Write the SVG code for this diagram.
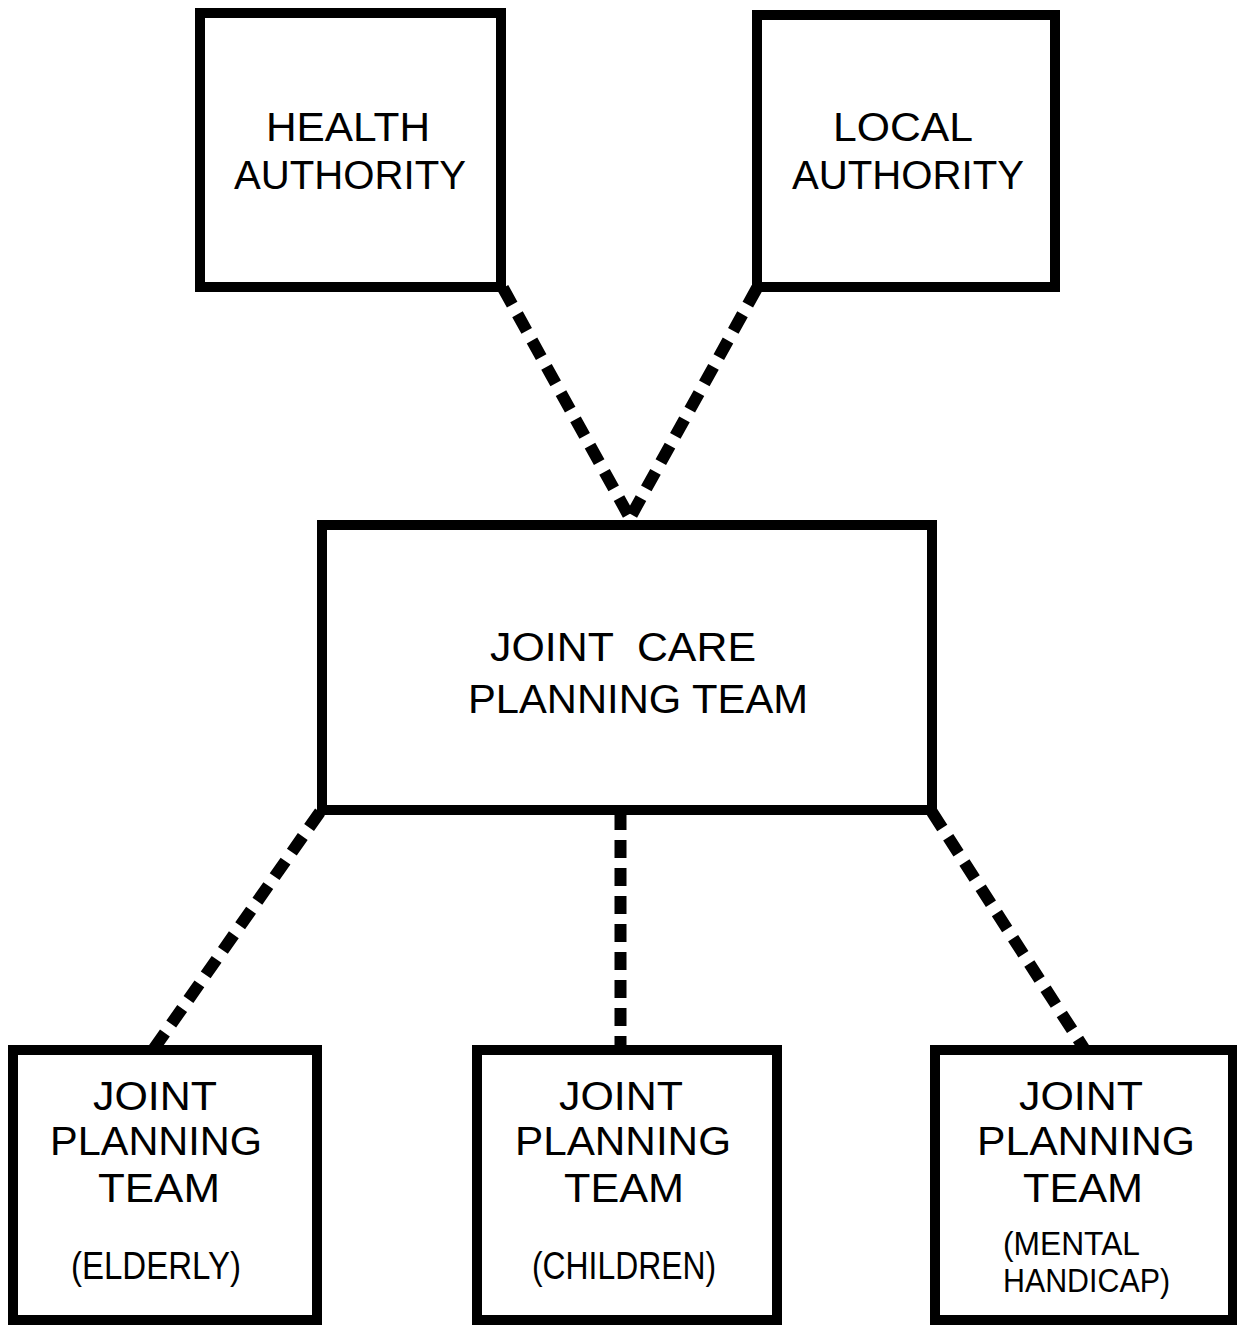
<svg xmlns="http://www.w3.org/2000/svg" width="1237" height="1325" viewBox="0 0 1237 1325">
<style>
.box{fill:#fff;stroke:#000;stroke-width:10;stroke-linejoin:miter}
.lbl{font-family:"Liberation Sans",Arial,sans-serif;font-size:40px;fill:#000;text-anchor:middle}
.sub{font-family:"Liberation Sans",Arial,sans-serif;font-size:38px;fill:#000;text-anchor:middle}
.sub2{font-family:"Liberation Sans",Arial,sans-serif;font-size:33px;fill:#000;text-anchor:start}
.dash{stroke:#000;stroke-width:12;stroke-dasharray:19 11;fill:none}
.vdash{stroke:#000;stroke-width:12;stroke-dasharray:18 10;fill:none}
</style>
<rect width="1237" height="1325" fill="#fff"/>
<g id="connectors">
<line class="dash" x1="503" y1="288" x2="630" y2="518"/>
<line class="dash" x1="757" y1="288" x2="630" y2="518"/>
<line class="dash" x1="320" y1="812" x2="153" y2="1050"/>
<line class="vdash" x1="620.5" y1="812" x2="620.5" y2="1050"/>
<line class="dash" x1="932" y1="812" x2="1085" y2="1050"/>
</g>
<g id="health-authority">
<rect class="box" x="200" y="13" width="301" height="274"/>
<text class="lbl" x="348" y="141" textLength="164" lengthAdjust="spacingAndGlyphs">HEALTH</text>
<text class="lbl" x="350" y="189" textLength="232" lengthAdjust="spacingAndGlyphs">AUTHORITY</text>
</g>
<g id="local-authority">
<rect class="box" x="757" y="15" width="298" height="272"/>
<text class="lbl" x="903" y="141" textLength="140" lengthAdjust="spacingAndGlyphs">LOCAL</text>
<text class="lbl" x="908" y="189" textLength="232" lengthAdjust="spacingAndGlyphs">AUTHORITY</text>
</g>
<g id="joint-care-planning-team">
<rect class="box" x="322" y="525" width="610" height="285"/>
<text class="lbl" x="623" y="661" textLength="266" lengthAdjust="spacingAndGlyphs" xml:space="preserve">JOINT  CARE</text>
<text class="lbl" x="638" y="713" textLength="340" lengthAdjust="spacingAndGlyphs">PLANNING TEAM</text>
</g>
<g id="jpt-elderly">
<rect class="box" x="13" y="1050" width="304" height="270"/>
<text class="lbl" x="155" y="1110" textLength="124" lengthAdjust="spacingAndGlyphs">JOINT</text>
<text class="lbl" x="156" y="1155" textLength="212" lengthAdjust="spacingAndGlyphs">PLANNING</text>
<text class="lbl" x="159" y="1202" textLength="122" lengthAdjust="spacingAndGlyphs">TEAM</text>
<text class="sub" x="156" y="1279" textLength="170" lengthAdjust="spacingAndGlyphs">(ELDERLY)</text>
</g>
<g id="jpt-children">
<rect class="box" x="477" y="1050" width="300" height="270"/>
<text class="lbl" x="621" y="1110" textLength="124" lengthAdjust="spacingAndGlyphs">JOINT</text>
<text class="lbl" x="623" y="1155" textLength="216" lengthAdjust="spacingAndGlyphs">PLANNING</text>
<text class="lbl" x="624" y="1202" textLength="120" lengthAdjust="spacingAndGlyphs">TEAM</text>
<text class="sub" x="624" y="1279" textLength="184" lengthAdjust="spacingAndGlyphs">(CHILDREN)</text>
</g>
<g id="jpt-mental-handicap">
<rect class="box" x="935" y="1050" width="298" height="270"/>
<text class="lbl" x="1081" y="1110" textLength="124" lengthAdjust="spacingAndGlyphs">JOINT</text>
<text class="lbl" x="1086" y="1155" textLength="218" lengthAdjust="spacingAndGlyphs">PLANNING</text>
<text class="lbl" x="1083" y="1202" textLength="120" lengthAdjust="spacingAndGlyphs">TEAM</text>
<text class="sub2" x="1003" y="1255" textLength="137" lengthAdjust="spacingAndGlyphs">(MENTAL</text>
<text class="sub2" x="1003" y="1292" textLength="167" lengthAdjust="spacingAndGlyphs">HANDICAP)</text>
</g>
</svg>
